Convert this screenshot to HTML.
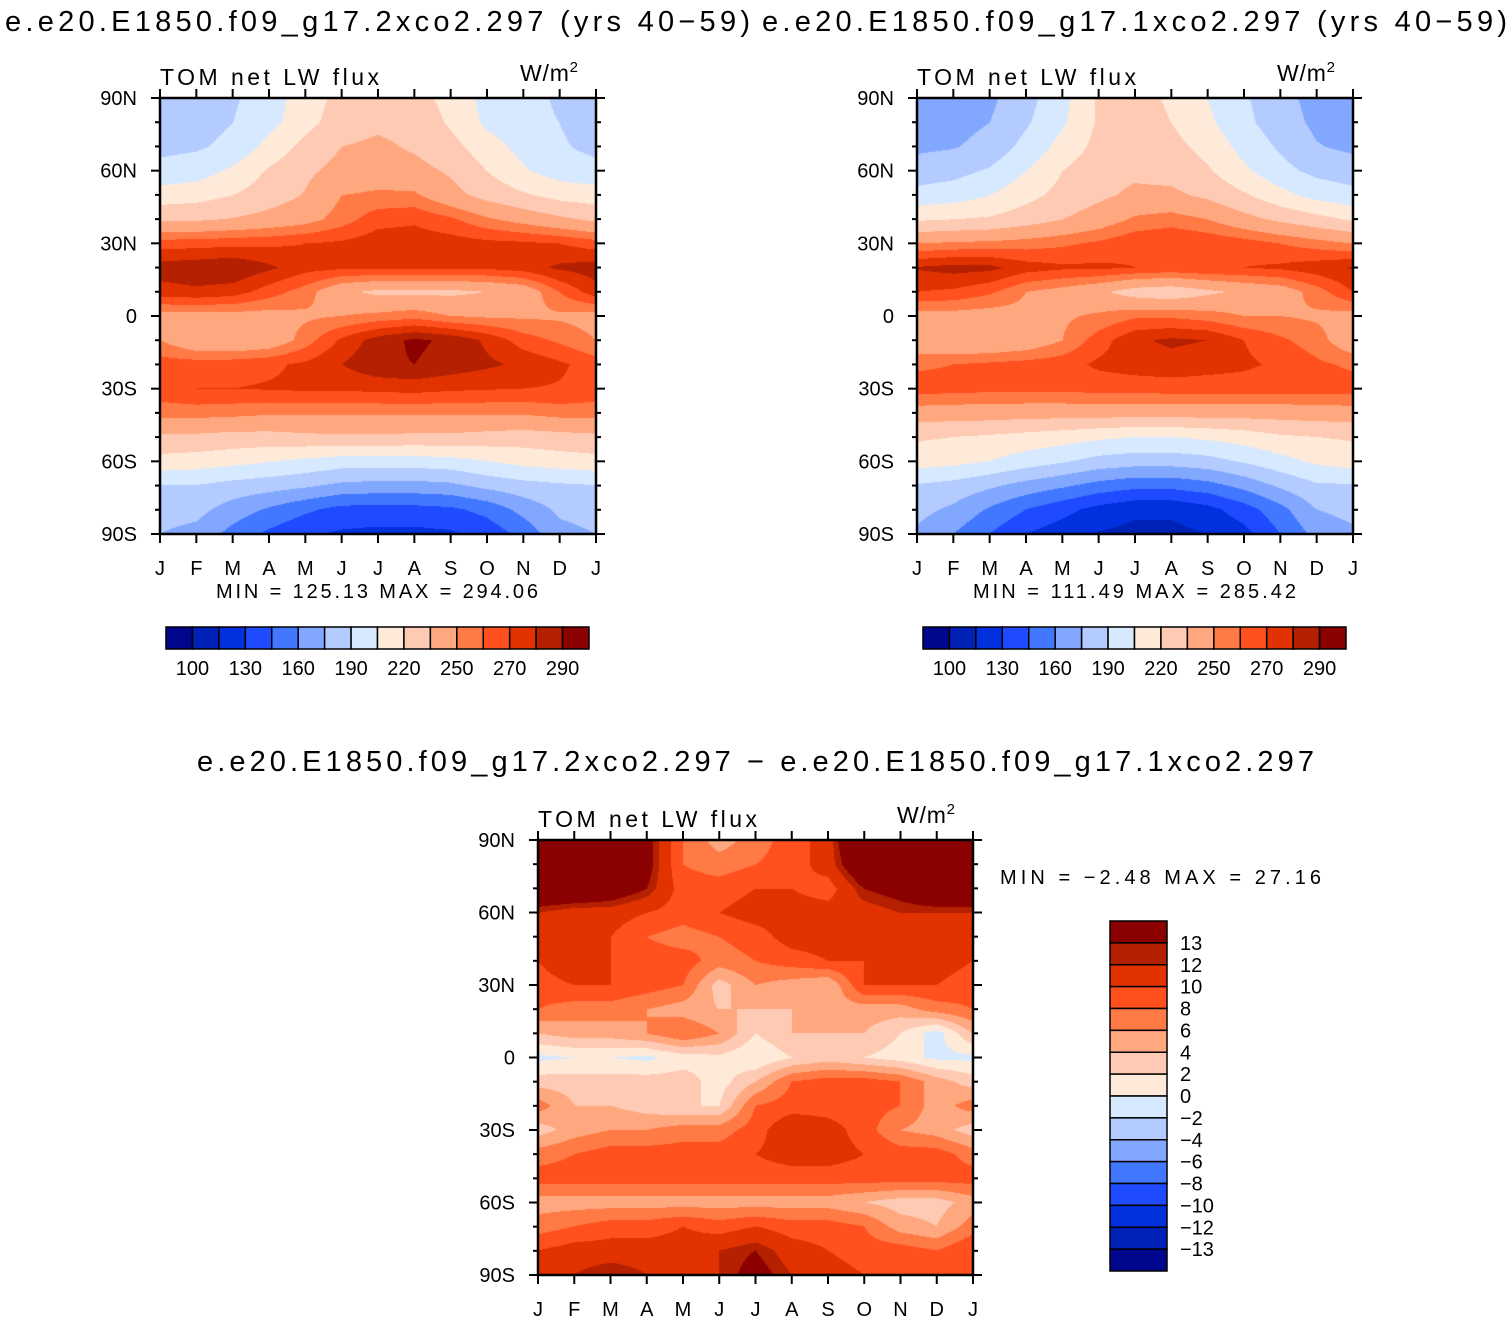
<!DOCTYPE html>
<html><head><meta charset="utf-8">
<style>
body{margin:0;background:#fff;width:1512px;height:1322px;overflow:hidden;position:relative;font-family:"Liberation Sans","DejaVu Sans",sans-serif;color:#000}
canvas{position:absolute}
svg{position:absolute;left:0;top:0}
</style></head><body>
<canvas id="c1" width="436" height="436" style="left:160px;top:98px"></canvas>
<canvas id="c2" width="436" height="436" style="left:917px;top:98px"></canvas>
<canvas id="c3" width="435" height="435" style="left:538px;top:840px"></canvas>
<svg id="ov" width="1512" height="1322"></svg>
<script>
const months=["J","F","M","A","M","J","J","A","S","O","N","D","J"];
const latLabels=["90N","60N","30N","0","30S","60S","90S"];
const colors=["#00078c","#0021b5","#0031dc","#1e4bff","#4277ff","#82a7ff","#b4cbff","#d6e9ff","#ffead9","#ffcab3","#ffa880","#ff7a45","#ff501e","#e13200","#b42000","#8b0000"];
const levelsAbs=[100,115,130,145,160,175,190,205,220,235,250,260,270,280,290];
const levelsDiff=[-13,-12,-10,-8,-6,-4,-2,0,2,4,6,8,10,12,13];
const barLabelsAbs=["100","130","160","190","220","250","270","290"];
const barLabelsDiff=["13","12","10","8","6","4","2","0","−2","−4","−6","−8","−10","−12","−13"];
// rows: 90N,80N,...,90S (10° steps); columns: J..J
const field2x=[
[182,183,188,198,212,225,228,226,215,200,195,188,182],
[183,184,190,200,215,228,232,230,218,202,195,190,183],
[186,188,194,210,225,235,238,233,225,212,200,192,186],
[195,198,208,222,232,240,243,240,233,220,207,198,195],
[212,214,220,228,236,250,252,252,240,230,222,215,212],
[232,233,236,240,245,255,266,268,262,252,245,238,232],
[265,266,267,268,270,272,276,276,275,273,272,270,265],
[285,287,289,282,274,272,272,272,272,272,275,282,285],
[276,278,275,265,255,238,232,232,232,235,240,260,276],
[245,245,245,245,248,250,253,256,250,248,248,248,245],
[250,238,236,240,255,272,285,292,288,278,265,258,250],
[265,265,266,268,272,280,288,290,286,282,278,272,265],
[266,270,270,271,272,272,273,274,272,271,270,269,266],
[255,255,254,252,252,252,252,252,252,252,252,255,255],
[232,232,230,230,232,233,233,232,232,230,228,230,232],
[215,213,210,206,202,198,198,198,200,205,210,213,215],
[190,190,185,182,178,172,170,170,172,180,185,188,190],
[182,180,168,158,148,140,140,140,142,150,165,178,182],
[175,170,155,142,132,128,126,126,128,135,150,170,175]];
const field1x=[
[168,168,172,185,200,222,225,218,205,192,180,170,168],
[168,170,175,188,203,222,226,220,208,194,182,172,168],
[172,174,180,195,210,225,228,225,215,200,188,176,172],
[182,185,192,205,220,230,232,230,222,208,195,186,182],
[195,198,205,215,225,232,238,238,232,222,210,200,195],
[218,220,222,228,235,242,252,255,250,240,232,225,218],
[250,252,253,255,258,262,268,270,268,265,260,255,250],
[281,284,283,275,272,272,270,268,270,270,272,276,281],
[270,268,262,250,245,238,228,225,232,238,242,255,270],
[245,245,244,246,248,252,258,258,255,250,250,248,245],
[240,236,236,240,250,265,278,282,280,270,262,255,240],
[258,260,262,264,266,272,275,276,274,272,268,262,258],
[265,264,263,263,263,264,264,265,265,265,265,265,265],
[244,243,243,242,242,242,242,242,242,242,242,243,244],
[222,220,218,215,212,208,205,205,208,212,218,220,222],
[212,210,205,198,192,185,182,182,185,192,200,208,212],
[189,185,178,170,163,155,150,150,155,165,178,188,189],
[180,172,158,145,135,125,118,118,125,138,155,175,180],
[172,160,145,130,122,114,111,111,115,125,145,165,172]];
const fieldDiff=[
[18,18,18,14,8,5,7,9,11,18,18,18,18],
[18,18,17,14,8,7,8,9,11,16,18,18,18],
[16,16,15,13,9,9,10,10,9,13,14,16,16],
[12,11,11,10,9,10,11,11,11,11,12,12,12],
[11,11,10,8,7,8,9,11,11,11,11,11,11],
[10,12,10,9,9,7,8,9,10,10,11,11,10],
[9,10,10,9,8,3,6,5,4,10,10,10,9],
[8,7,7,6,5,4,4,4,5,5,5,7,8],
[4,5,5,6,8,6,2,4,4,4,2,-1,4],
[-0.5,0,0,-0.5,1,1.5,0,2,3,2,1,-0.5,-0.5],
[3,3,3,3,3,1,4,8,9,9,8,5,3],
[7,4,4,3,2,2,8,9,9,9,8,5,7],
[3,5,6,6,7,7,9,12,11,9,6,5,3],
[7,8,9,9,9,9,10,11,11,10,9,9,7],
[9,9,9,9,9,9,9,9,9,9,9,9,9],
[5,5,5,5,5,5,5,5,5,4,3,3,5],
[7,8,9,9,10,9,10,9,9,8,5,4,7],
[10,11,11,11,11,12,13,11,10,9,9,8,10],
[10,12,13,12,12,12,14,12,11,10,10,10,10]];

function levelIndex(v,levels){let i=0;while(i<levels.length&&v>=levels[i])i++;return i;}
function draw(id,field,levels){
  const c=document.getElementById(id),ctx=c.getContext('2d'),W=c.width,H=c.height;
  const nr=field.length,nc=field[0].length;
  const img=ctx.createImageData(W,H);
  const rgb=colors.map(h=>[parseInt(h.substr(1,2),16),parseInt(h.substr(3,2),16),parseInt(h.substr(5,2),16)]);
  for(let y=0;y<H;y++){const fy=y/(H-1)*(nr-1);let r0=Math.min(Math.floor(fy),nr-2);const ty=fy-r0;
    for(let x=0;x<W;x++){const fx=x/(W-1)*(nc-1);let c0=Math.min(Math.floor(fx),nc-2);const tx=fx-c0;
      const v=(field[r0][c0]*(1-tx)+field[r0][c0+1]*tx)*(1-ty)+(field[r0+1][c0]*(1-tx)+field[r0+1][c0+1]*tx)*ty;
      const col=rgb[levelIndex(v,levels)];const k=(y*W+x)*4;
      img.data[k]=col[0];img.data[k+1]=col[1];img.data[k+2]=col[2];img.data[k+3]=255;}}
  ctx.putImageData(img,0,0);
}
draw('c1',field2x,levelsAbs);draw('c2',field1x,levelsAbs);draw('c3',fieldDiff,levelsDiff);

const ov=document.getElementById('ov');const NS='http://www.w3.org/2000/svg';
function mk(tag,attrs,name){const e=document.createElementNS(NS,tag);for(const k in attrs)e.setAttribute(k,attrs[k]);
  
  
  ov.appendChild(e);return e;}
function txt(x,y,s,size,anchor,name,len){const a={x:x,y:y,'font-size':size,'text-anchor':anchor,'font-family':'Liberation Sans, DejaVu Sans, sans-serif'};
  if(len){a.textLength=len;a.lengthAdjust='spacing';}
  const e=mk('text',a,name);e.textContent=s;return e;}
txt(5,31,'e.e20.E1850.f09_g17.2xco2.297 (yrs 40−59)',29,'start','left-title',745);
txt(762,31,'e.e20.E1850.f09_g17.1xco2.297 (yrs 40−59)',29,'start','right-title',745);
txt(197,771,'e.e20.E1850.f09_g17.2xco2.297 − e.e20.E1850.f09_g17.1xco2.297',29,'start','diff-title',1117);
function axes(L,T,S,pre){
  mk('rect',{x:L,y:T,width:S,height:S,fill:'none',stroke:'#000','stroke-width':2.5},pre+'-frame');
  for(let i=0;i<months.length;i++){const x=L+i*S/12;
    mk('line',{x1:x,y1:T,x2:x,y2:T-9,stroke:'#000','stroke-width':2},pre+'-top-tick');
    mk('line',{x1:x,y1:T+S,x2:x,y2:T+S+9,stroke:'#000','stroke-width':2},pre+'-bottom-tick');
    txt(x,T+S+41,months[i],20,'middle',pre+'-month-label');}
  for(let j=0;j<=18;j++){const y=T+j*S/18;const major=j%3==0;const len=major?9:5;
    mk('line',{x1:L,y1:y,x2:L-len,y2:y,stroke:'#000','stroke-width':2},pre+'-left-tick');
    mk('line',{x1:L+S,y1:y,x2:L+S+len,y2:y,stroke:'#000','stroke-width':2},pre+'-right-tick');
    if(major)txt(L-23,y+7,latLabels[j/3],20,'end',pre+'-lat-label');}
  txt(L,T-13,'TOM net LW flux',23,'start',pre+'-subtitle',219);
  const u=txt(L+S-76,T-17,'W/m',23,'start',pre+'-units',58);
  const sp=document.createElementNS(NS,'tspan');sp.setAttribute('font-size',15);sp.setAttribute('dy',-9);sp.textContent='2';u.appendChild(sp);
}
axes(160,98,436,'left');axes(917,98,436,'right');axes(538,840,435,'diff');
txt(216,598,'MIN = 125.13 MAX = 294.06',20,'start','left-min-max',322);
txt(973,598,'MIN = 111.49 MAX = 285.42',20,'start','right-min-max',323);
txt(1000,884,'MIN =  −2.48 MAX =  27.16',20,'start','diff-min-max',321);
function hbar(L,pre){const w=423/16;
  for(let i=0;i<16;i++)mk('rect',{x:L+i*w,y:627,width:w,height:22,fill:colors[i],stroke:'#000','stroke-width':1.5},pre+'-colorbar-box');
  const idx=[0,2,4,6,8,10,12,14];
  for(let k=0;k<idx.length;k++)txt(L+(idx[k]+1)*w,675,barLabelsAbs[k],20,'middle',pre+'-colorbar-label');}
hbar(166,'left');hbar(923,'right');
const vh=350/16;
for(let i=0;i<16;i++)mk('rect',{x:1110,y:921+i*vh,width:57,height:vh,fill:colors[15-i],stroke:'#000','stroke-width':1.5},'diff-colorbar-box');
for(let k=0;k<barLabelsDiff.length;k++)txt(1180,921+(k+1)*vh+7,barLabelsDiff[k],20,'start','diff-colorbar-label');
</script>
</body></html>
